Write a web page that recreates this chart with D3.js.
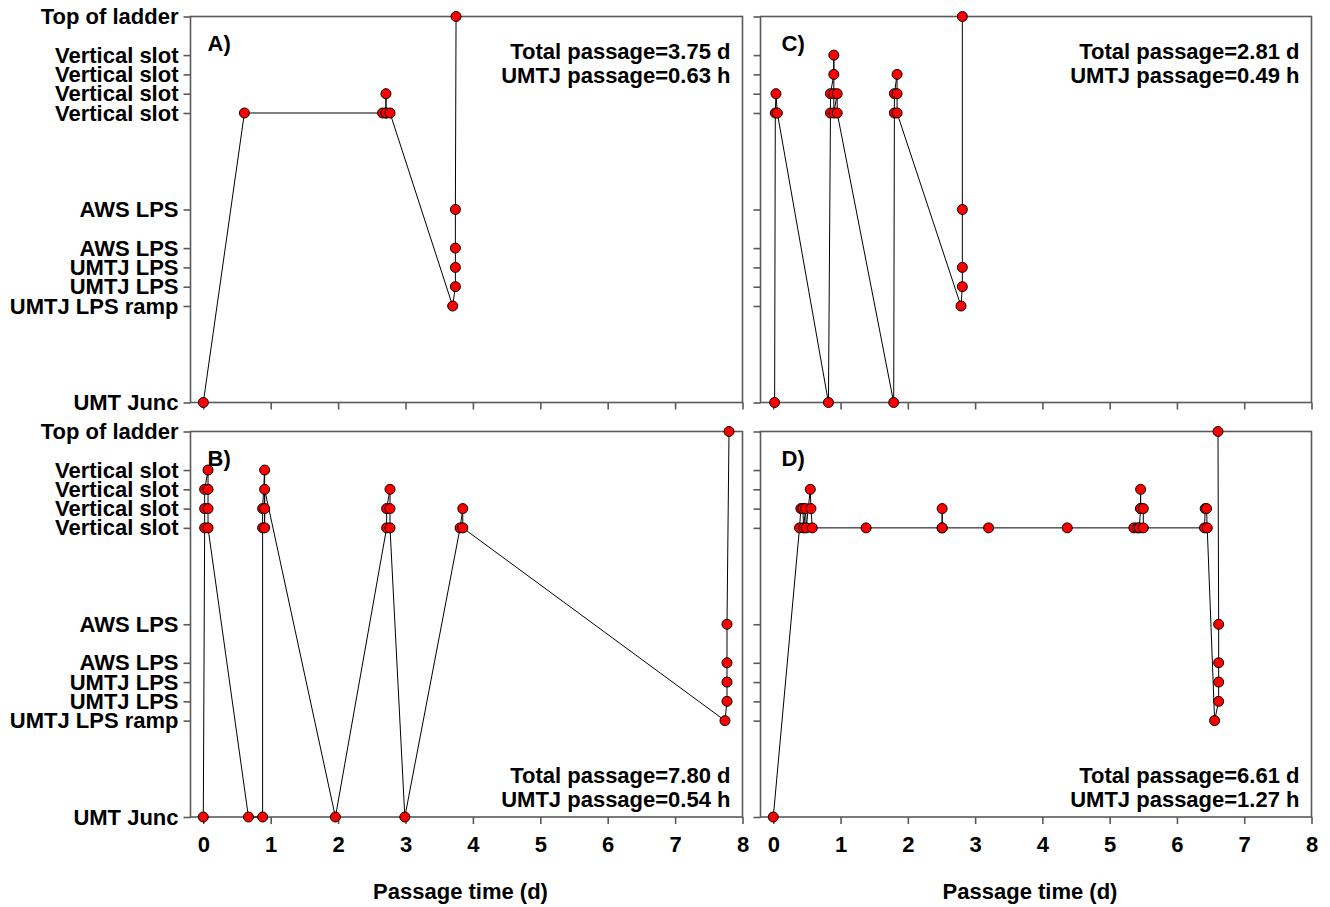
<!DOCTYPE html>
<meta charset="utf-8">
<style>
body { margin: 0; background: #fff; }
svg text { font-family: "Liberation Sans", Arial, sans-serif; font-weight: bold; fill: #000; }
.frame { fill: none; stroke: #5a5a5a; stroke-width: 1.6; }
.axis path { display: none; }
.axis line { stroke: #5a5a5a; stroke-width: 1.6; }
.axis text { font-size: 22px; }
.track { fill: none; stroke: #000; stroke-width: 1; }
.fix { fill: #ff0000; stroke: #000; stroke-width: 1; }
</style>
<body>
<svg width="1330" height="907"></svg>
<script src="https://d3js.org/d3.v7.min.js"></script>
<script>

// ladder positions (numeric level) and their names
var levels = [0, 5, 6, 7, 8, 10, 15, 16, 17, 18, 20];
var levelNames = ["UMT Junc", "UMTJ LPS ramp", "UMTJ LPS", "UMTJ LPS", "AWS LPS", "AWS LPS",
                  "Vertical slot", "Vertical slot", "Vertical slot", "Vertical slot", "Top of ladder"];
var dayTicks = [0, 1, 2, 3, 4, 5, 6, 7, 8];

// detections: [passage time (d), level]
var fishA = [[0,0],[0.61,15],[2.66,15],[2.71,15],[2.71,16],[2.71,15],[2.77,15],[3.70,5],
             [3.74,6],[3.74,7],[3.74,8],[3.74,10],[3.75,20]];
var fishB = [[0,0],[0.02,15],[0.02,16],[0.02,17],[0.07,18],[0.07,17],[0.07,16],[0.07,15],
             [0.67,0],[0.88,0],[0.88,15],[0.88,16],[0.91,18],[0.91,15],[0.91,16],[0.91,17],
             [1.96,0],[2.72,15],[2.72,16],[2.77,17],[2.77,16],[2.77,15],[2.99,0],
             [3.81,15],[3.85,16],[3.85,15],[7.74,5],[7.77,6],[7.77,7],[7.77,8],[7.77,10],[7.80,20]];
var fishC = [[0.02,0],[0.03,15],[0.04,16],[0.06,15],[0.82,0],[0.85,15],[0.85,16],[0.90,17],
             [0.90,18],[0.90,16],[0.90,15],[0.95,16],[0.95,15],[1.79,0],[1.80,15],[1.80,16],
             [1.84,17],[1.84,16],[1.84,15],[2.79,5],[2.81,6],[2.81,7],[2.81,10],[2.81,20]];
var fishD = [[0,0],[0.39,15],[0.41,16],[0.44,16],[0.45,15],[0.48,16],[0.49,15],[0.55,17],
             [0.56,16],[0.58,15],[1.38,15],[2.51,15],[2.51,16],[2.51,15],[3.20,15],[4.37,15],
             [5.36,15],[5.41,15],[5.44,15],[5.46,16],[5.46,17],[5.46,16],[5.50,16],[5.50,15],
             [6.41,15],[6.42,16],[6.44,16],[6.45,15],[6.56,5],[6.62,6],[6.62,7],[6.62,8],
             [6.62,10],[6.61,20]];

var panelNames = ["A)", "B)", "C)", "D)"];
var totalPassage = ["3.75 d", "7.80 d", "2.81 d", "6.61 d"];
var umtjPassage = ["0.63 h", "0.54 h", "0.49 h", "1.27 h"];

var svg = d3.select("svg");

// layout: two columns, two rows
var cols = [[190.5, 742.5], [760.5, 1311.5]],
    rows = [[402.5, 16.5], [817, 431.5]];

var panels = [
  {data: fishA, col: 0, row: 0},
  {data: fishB, col: 0, row: 1},
  {data: fishC, col: 1, row: 0},
  {data: fishD, col: 1, row: 1}
];

panels.forEach(function(p, i) {
  var x = d3.scaleLinear().domain([-0.19, 8]).range(cols[p.col]),
      y = d3.scaleLinear().domain([0, 20]).range(rows[p.row]);
  var g = svg.append("g");

  g.append("rect")
      .attr("class", "frame")
      .attr("x", cols[p.col][0])
      .attr("y", rows[p.row][1])
      .attr("width", cols[p.col][1] - cols[p.col][0])
      .attr("height", rows[p.row][0] - rows[p.row][1]);

  g.append("g")
      .attr("class", "axis")
      .attr("transform", "translate(" + cols[p.col][0] + ",0)")
      .call(d3.axisLeft(y).tickValues(levels).tickSize(7).tickPadding(5)
        .tickFormat(function(d, k) { return p.col == 0 ? levelNames[k] : ""; }));

  g.append("g")
      .attr("class", "axis")
      .attr("transform", "translate(0," + rows[p.row][0] + ")")
      .call(d3.axisBottom(x).tickValues(dayTicks).tickSize(7).tickPadding(12)
        .tickFormat(function(d) { return p.row == 1 ? d : ""; }));

  var line = d3.line()
      .x(function(d) { return x(d[0]); })
      .y(function(d) { return y(d[1]); });

  g.append("path")
      .attr("class", "track")
      .attr("d", line(p.data));

  g.selectAll(".fix")
    .data(p.data)
    .enter().append("circle")
      .attr("class", "fix")
      .attr("cx", function(d) { return x(d[0]); })
      .attr("cy", function(d) { return y(d[1]); })
      .attr("r", 5);

  // panel letter
  g.append("text")
      .attr("x", cols[p.col][0] + (p.col == 0 ? 17 : 21))
      .attr("y", rows[p.row][1] + 34)
      .style("font-size", "22px")
      .text(panelNames[i]);

  // passage notes, upper right on top row, lower right on bottom row
  var noteY = p.row == 0 ? rows[p.row][1] + 42 : rows[p.row][0] - 34;
  g.append("text")
      .attr("x", cols[p.col][1] - 12)
      .attr("y", noteY)
      .attr("text-anchor", "end")
      .style("font-size", "22px")
      .text("Total passage=" + totalPassage[i]);
  g.append("text")
      .attr("x", cols[p.col][1] - 12)
      .attr("y", noteY + 24)
      .attr("text-anchor", "end")
      .style("font-size", "22px")
      .text("UMTJ passage=" + umtjPassage[i]);
});

// x axis titles under each column
cols.forEach(function(c) {
  svg.append("text")
      .attr("x", (c[0] + c[1]) / 2 - 6)
      .attr("y", 899)
      .attr("text-anchor", "middle")
      .style("font-size", "22px")
      .text("Passage time (d)");
});

</script>
</body>
